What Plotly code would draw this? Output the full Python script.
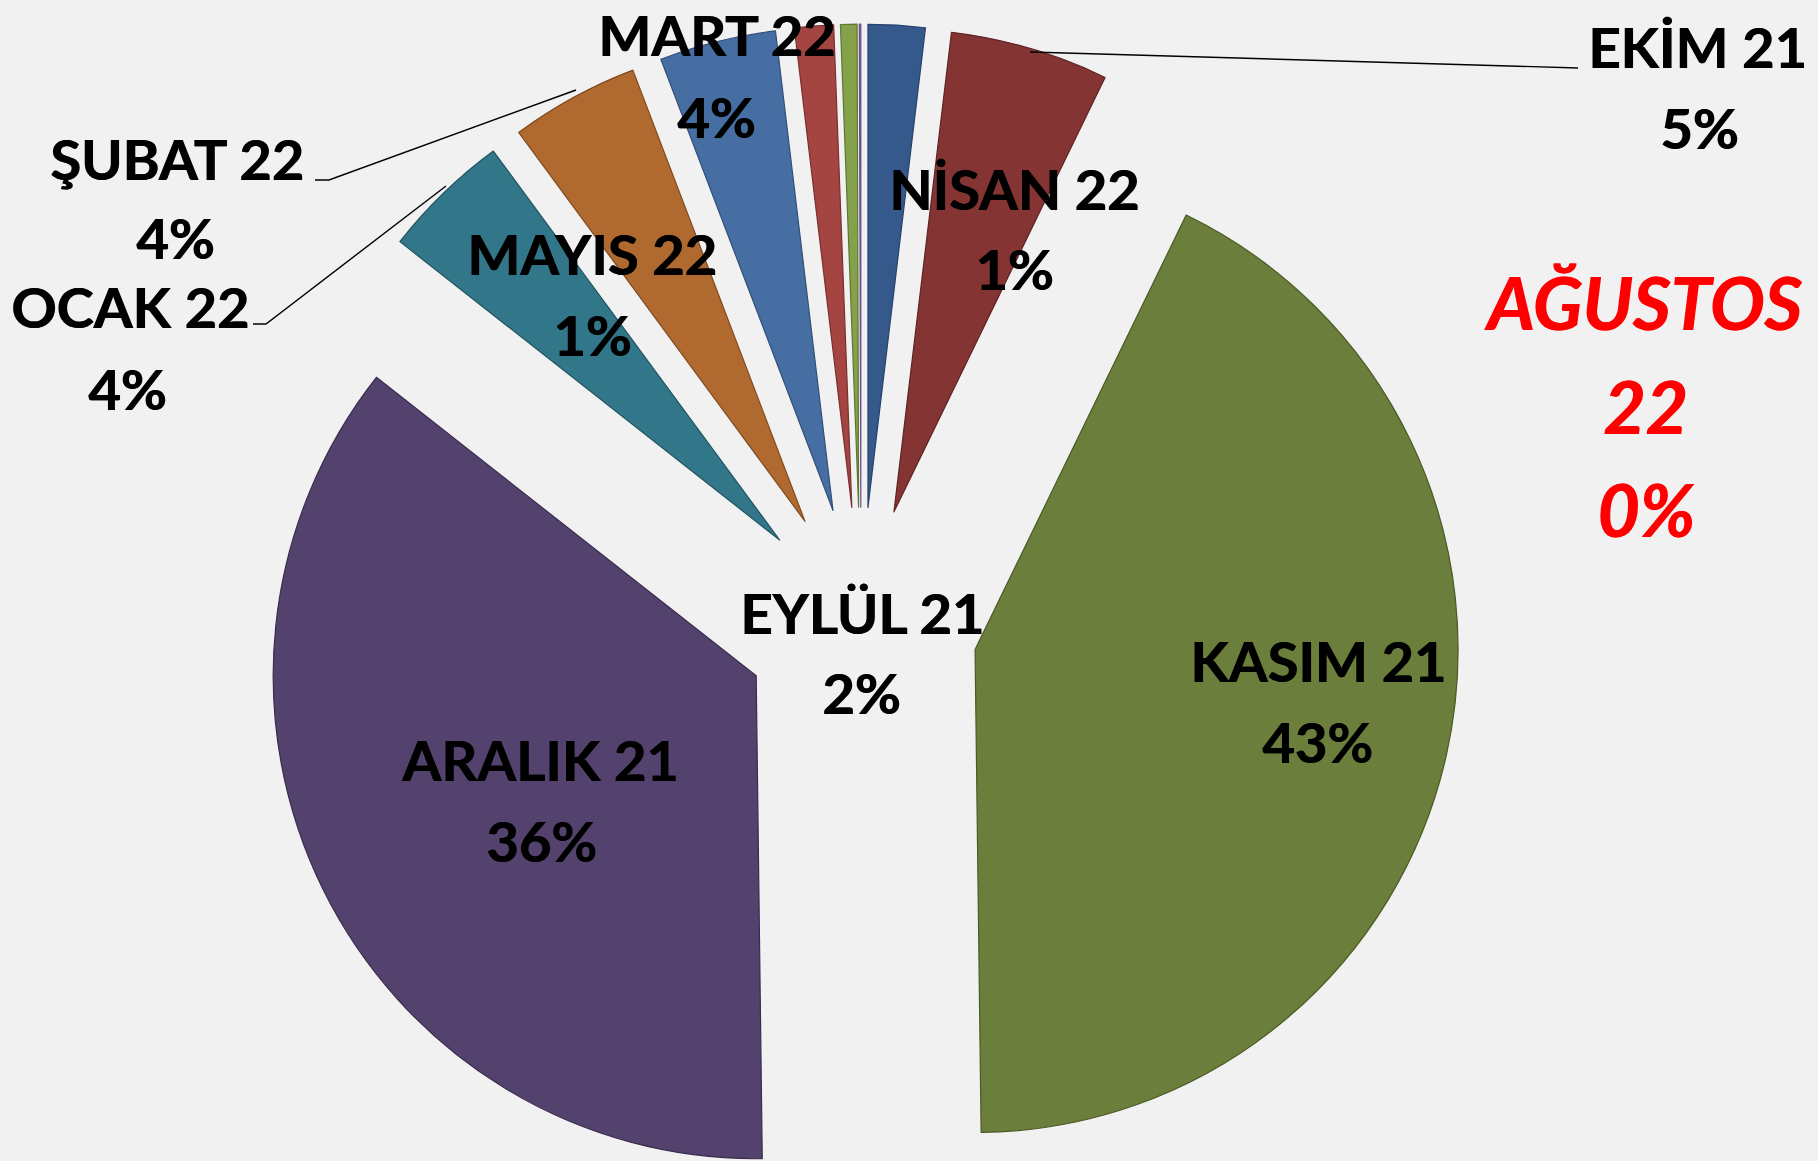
import math
import plotly.graph_objects as go

# ---------------- data ----------------
months = ["EYLÜL 21", "EKİM 21", "KASIM 21", "ARALIK 21", "OCAK 22", "ŞUBAT 22",
          "MART 22", "NİSAN 22", "MAYIS 22", "HAZİRAN 22", "TEMMUZ 22", "AĞUSTOS 22"]
shares = [1.9, 5.3, 42.6, 35.8, 4.3, 4.3, 3.9, 1.3, 0.55, 0.05, 0, 0]
slice_colors = ["#34598A", "#853434", "#6B7E3B", "#54426E", "#327789", "#B06A30",
                "#466EA2", "#A44542", "#85A24B", "#8A6DAA", "#3FA3BE", "#F08A3C"]
edge_colors = ["#26426A", "#5E2323", "#4A5A25", "#3A2C4E", "#22535F", "#7F4A1F",
               "#314F78", "#7A302E", "#5E7634", "#6A5088", "#2C7A8E", "#B0652A"]
# label positions (pixel centre of name line, pixel centre of percent line)
label_pos = {
    "EYLÜL 21": ((862, 612), (861, 693)),
    "EKİM 21": ((1697, 46), (1699, 127)),
    "KASIM 21": ((1318, 660), (1317, 741)),
    "ARALIK 21": ((539, 759), (541, 840)),
    "OCAK 22": ((130, 306), (127, 388)),
    "ŞUBAT 22": ((177, 158), (175, 238)),
    "MART 22": ((716, 34), (716, 116)),
    "NİSAN 22": ((1014, 188), (1014, 268)),
    "MAYIS 22": ((592, 253), (592, 335)),
}
highlight_label = "AĞUSTOS 22"

W, H = 1818, 1161
CX, CY = 861, 624      # pie centre (px)
R = 483                # radius (px)
EXPLODE = 0.242        # explosion as fraction of radius

total = sum(shares)
pcts = [round(100 * v / total) for v in shares]

fig = go.Figure()

cum = 0.0
for i, v in enumerate(shares):
    mid = 360.0 * (cum + v / 2.0) / total
    cum += v
    if v <= 0:
        continue
    d = EXPLODE * R
    cx = CX + d * math.sin(math.radians(mid))
    cy = CY - d * math.cos(math.radians(mid))
    x0 = max(0.0, (cx - R) / W)
    x1 = min(1.0, (cx + R) / W)
    y0 = max(0.0, 1 - (cy + R) / H)
    y1 = min(1.0, 1 - (cy - R) / H)
    fig.add_trace(go.Pie(
        labels=months,
        values=shares,
        sort=False,
        direction="clockwise",
        rotation=0,
        marker=dict(
            colors=[c if j == i else "rgba(0,0,0,0)" for j, c in enumerate(slice_colors)],
            line=dict(color=[c if j == i else "rgba(0,0,0,0)" for j, c in enumerate(edge_colors)],
                      width=[1.2 if j == i else 0 for j in range(len(months))]),
        ),
        textinfo="none",
        hoverinfo="label+percent",
        showlegend=False,
        domain=dict(x=[x0, x1], y=[y0, y1]),
    ))


def px(x, y):
    return x / W, 1 - y / H


annotations = []
font_main = dict(family="Lato, Carlito, 'Open Sans', sans-serif", size=56, color="#000000",
                 weight="bold", shadow="0.9px 0px 0px #000000")
for i, m in enumerate(months):
    if m not in label_pos:
        continue
    (nx, ny), (qx, qy) = label_pos[m]
    ax_, ay_ = px(nx, ny)
    annotations.append(dict(x=ax_, y=ay_, xref="paper", yref="paper", text=m, showarrow=False,
                            xanchor="center", yanchor="middle", font=font_main))
    bx_, by_ = px(qx, qy)
    annotations.append(dict(x=bx_, y=by_, xref="paper", yref="paper", text=f"{pcts[i]}%", showarrow=False,
                            xanchor="center", yanchor="middle", font=font_main))

# highlighted zero-share month
hi = months.index(highlight_label)
font_red = dict(family="Lato, Carlito, 'Open Sans', sans-serif", size=73, color="#FF0000",
                weight="bold", style="italic", shadow="0.9px 0px 0px #FF0000")
name_parts = highlight_label.split(" ")
for txt, (x, y) in zip([name_parts[0], name_parts[1], f"{pcts[hi]}%"],
                       [(1643, 302), (1645, 406), (1646, 509)]):
    a, b = px(x, y)
    annotations.append(dict(x=a, y=b, xref="paper", yref="paper", text=txt, showarrow=False,
                            xanchor="center", yanchor="middle", font=font_red))

# leader lines
leaders = [
    [(1030, 52), (1578, 68)],
    [(315, 180), (329, 180), (576, 90)],
    [(253, 324), (266, 324), (446, 186)],
]
shapes = []
for pts in leaders:
    path = ""
    for k, (x, y) in enumerate(pts):
        a, b = px(x, y)
        path += ("M" if k == 0 else " L") + f"{a:.5f},{b:.5f}"
    shapes.append(dict(type="path", path=path, xref="paper", yref="paper",
                       line=dict(color="#000000", width=1.4)))

fig.update_layout(
    width=W, height=H,
    margin=dict(l=0, r=0, t=0, b=0),
    paper_bgcolor="#F1F1F1",
    plot_bgcolor="#F1F1F1",
    annotations=annotations,
    shapes=shapes,
    showlegend=False,
)

fig.write_html("out.html",
               config={"displayModeBar": False},
               post_script="document.body.style.margin='0';document.body.style.background='#F1F1F1';")
